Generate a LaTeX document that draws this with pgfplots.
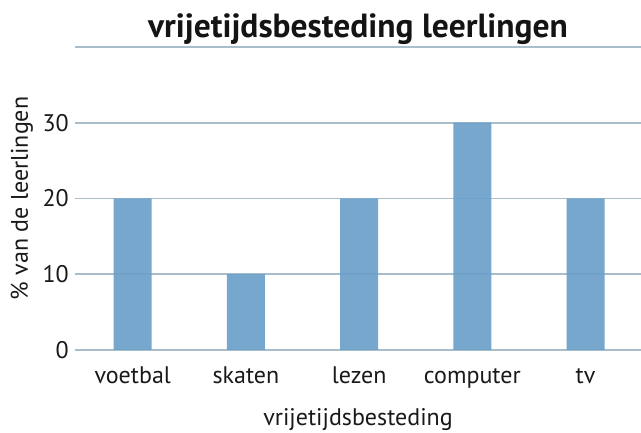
\documentclass[border=0pt]{standalone}
\usepackage{pgfplots}
\pgfplotsset{compat=1.18}
\usepackage{fontspec}
\setmainfont{PT Sans}
\definecolor{barblue}{RGB}{108,159,201}
\definecolor{gridc}{RGB}{168,190,203}
\begin{document}
\begin{tikzpicture}
\begin{axis}[
  at={(0pt,0pt)}, anchor=south west,
  scale only axis, width=566pt, height=303pt,
  xmin=-0.51, xmax=4.49, ymin=0, ymax=40,
  axis line style={draw=none},
  xtick={0,1,2,3,4},
  xticklabels={voetbal,skaten,lezen,computer,tv},
  ytick={0,10,20,30,40},
  yticklabels={0,10,20,30,{}},
  major tick length=0pt,
  ymajorgrids, grid style={gridc, line width=1.6pt},
  tick label style={font=\fontsize{24}{27}\selectfont, text=black!90},
  xticklabel style={anchor=base, yshift=-34pt},
  yticklabel style={anchor=east, inner sep=0pt, xshift=-6pt},
  /pgf/number format/assume math mode=true,
  clip=false,
]
\addplot[ybar, bar width=38pt, draw=none, fill=barblue, fill opacity=0.92] coordinates {
  (0,20) (1,10) (2,20) (3,30) (4,20)
};
\end{axis}
\node[anchor=base, font=\fontsize{33.5}{36}\selectfont\bfseries, text=black!92] at (283pt,312pt) {vrijetijdsbesteding leerlingen};
\node[anchor=base, font=\fontsize{24}{27}\selectfont, text=black!90] at (283pt,-76pt) {vrijetijdsbesteding};
\node[anchor=base, rotate=90, font=\fontsize{24}{27}\selectfont, text=black!90] at (-47pt,151.5pt) {\% van de leerlingen};
\pgfresetboundingbox
\useasboundingbox (-75pt,-83pt) rectangle (566pt,350pt);
\end{tikzpicture}
\end{document}
